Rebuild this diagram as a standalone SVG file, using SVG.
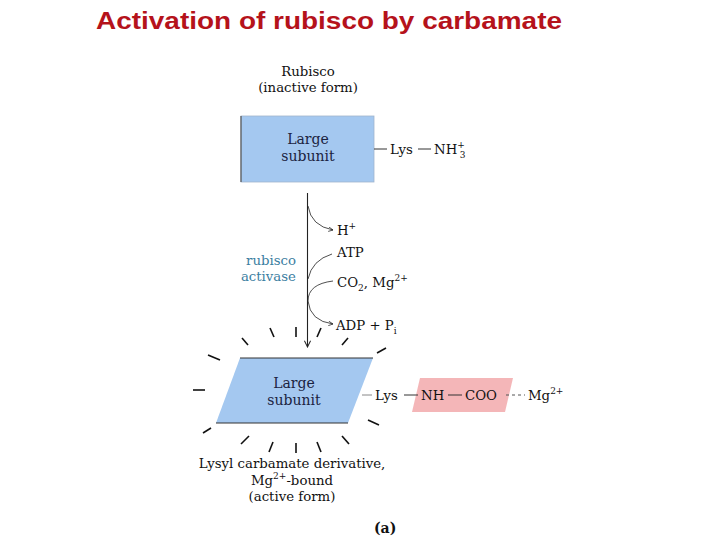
<svg xmlns="http://www.w3.org/2000/svg" width="720" height="540" viewBox="0 0 720 540">
<defs>
<style>
.t{font-family:"DejaVu Serif","Liberation Serif",serif;font-size:13.3px;fill:#111}
.c{text-anchor:middle}
.n{fill:#1b2340;font-size:14px}
.blue{fill:#3b7ea1}
.ray{stroke:#111;stroke-width:1.6;stroke-linecap:butt}
.ln{stroke:#333;stroke-width:1;fill:none}
.sup{font-size:9px}
</style>
<marker id="ah" viewBox="0 0 10 10" refX="9" refY="5" markerWidth="7" markerHeight="7" orient="auto">
<path d="M1,1 L9,5 L1,9" fill="none" stroke="#222" stroke-width="1.3"/>
</marker>
</defs>
<rect width="720" height="540" fill="#fff"/>
<text x="96" y="29" font-family="Liberation Sans,Arial,sans-serif" font-size="23" font-weight="bold" fill="#b5121b" textLength="466" lengthAdjust="spacingAndGlyphs">Activation of rubisco by carbamate</text>

<g id="inactive-label">
<text class="t c" x="308" y="76">Rubisco</text>
<text class="t c" x="308" y="92">(inactive form)</text>
</g>

<g id="large-subunit-inactive">
<rect x="241" y="116" width="133" height="66" fill="#a4c8f0" stroke="#a0b4cc" stroke-width="0.8"/>
<line x1="241" y1="116" x2="241" y2="182" stroke="#555" stroke-width="1.2"/>
<text class="t c n" x="308" y="144">Large</text>
<text class="t c n" x="308" y="161">subunit</text>
<line class="ln" x1="374" y1="149" x2="387" y2="149"/>
<text class="t" x="390" y="154">Lys</text>
<line class="ln" x1="418" y1="149" x2="431" y2="149"/>
<text class="t" x="434" y="154">NH<tspan class="sup" dy="-6">+</tspan><tspan class="sup" dx="-5" dy="10">3</tspan></text>
</g>

<g id="connectors">
<line x1="307.5" y1="193" x2="307.5" y2="347" stroke="#222" stroke-width="1.1" marker-end="url(#ah)"/>
<path d="M308,206 Q311,226 333,230" fill="none" stroke="#222" stroke-width="0.8" marker-end="url(#ah)"/>
<path d="M332,254 Q312,260 308,279" fill="none" stroke="#222" stroke-width="0.8"/>
<path d="M333,281 Q308,284 308,301 Q310,321 333,324" fill="none" stroke="#222" stroke-width="0.8" marker-end="url(#ah)"/>
</g>

<g id="reactants">
<text class="t" x="337" y="235">H<tspan class="sup" dy="-6">+</tspan></text>
<text class="t" x="337" y="257">ATP</text>
<text class="t" x="337" y="287">CO<tspan class="sup" dy="4">2</tspan><tspan dy="-4">, Mg</tspan><tspan class="sup" dy="-6">2+</tspan></text>
<text class="t" x="336" y="330">ADP + P<tspan class="sup" dy="4">i</tspan></text>
</g>

<g id="activase">
<text class="t blue" x="296" y="265" text-anchor="end">rubisco</text>
<text class="t blue" x="296" y="281" text-anchor="end">activase</text>
</g>

<g id="large-subunit-active">
<g class="ray">
<line x1="208" y1="355" x2="220" y2="360"/>
<line x1="242" y1="338" x2="248" y2="345"/>
<line x1="270" y1="328" x2="274" y2="337"/>
<line x1="296" y1="327" x2="296" y2="337"/>
<line x1="321" y1="328" x2="317" y2="337"/>
<line x1="348" y1="338" x2="342" y2="345"/>
<line x1="386" y1="348" x2="377" y2="353"/>
<line x1="193" y1="390" x2="205" y2="390"/>
<line x1="368" y1="420" x2="379" y2="425"/>
<line x1="211" y1="428" x2="203" y2="433"/>
<line x1="249" y1="436" x2="241" y2="444"/>
<line x1="273" y1="442" x2="269" y2="452"/>
<line x1="296" y1="443" x2="296" y2="453"/>
<line x1="317" y1="442" x2="321" y2="452"/>
<line x1="342" y1="436" x2="349" y2="444"/>
</g>
<polygon points="240,358 373,358 348,423 216,423" fill="#a4c8f0"/>
<line x1="240" y1="358" x2="373" y2="358" stroke="#333" stroke-width="1"/>
<line x1="216" y1="423" x2="348" y2="423" stroke="#333" stroke-width="1"/>
<text class="t c n" x="294" y="388">Large</text>
<text class="t c n" x="294" y="405">subunit</text>
<line x1="362" y1="395" x2="372" y2="395" stroke="#888" stroke-width="1"/>
<text class="t" x="375" y="400">Lys</text>
<polygon points="420,378 513,378 505,412 412,412" fill="#f4b6b8"/>
<line class="ln" x1="404" y1="395" x2="418" y2="395"/>
<text class="t" x="421" y="400">NH</text>
<line class="ln" x1="448" y1="395" x2="462" y2="395"/>
<text class="t" x="465" y="400">COO</text>
<line x1="506" y1="395" x2="525" y2="395" stroke="#555" stroke-width="1" stroke-dasharray="3,3"/>
<text class="t" x="528" y="400">Mg<tspan class="sup" dy="-6">2+</tspan></text>
</g>

<g id="active-label">
<text class="t c" x="292" y="468">Lysyl carbamate derivative,</text>
<text class="t c" x="292" y="485">Mg<tspan class="sup" dy="-6">2+</tspan><tspan dy="6">-bound</tspan></text>
<text class="t c" x="292" y="501">(active form)</text>
</g>

<text x="374" y="533" font-family="DejaVu Serif,serif" font-size="14" font-weight="bold" fill="#111">(a)</text>
</svg>
